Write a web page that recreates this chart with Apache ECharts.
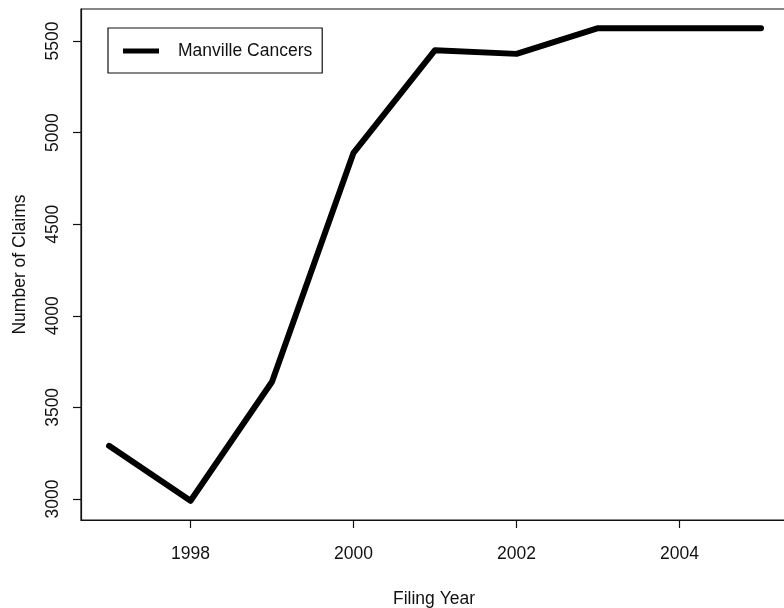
<!DOCTYPE html>
<html>
<head>
<meta charset="utf-8">
<script src="https://cdn.jsdelivr.net/npm/echarts@6/dist/echarts.min.js"></script>
<style>html,body{margin:0;padding:0;background:#fff}#c{width:784px;height:608px}</style>
</head>
<body>
<div id="c"></div>
<script>
var years = [1997, 1998, 1999, 2000, 2001, 2002, 2003, 2004, 2005];
var claims = [3290, 2990, 3640, 4890, 5450, 5430, 5570, 5570, 5570];
var xTicks = [1998, 2000, 2002, 2004];
var yTicks = [3000, 3500, 4000, 4500, 5000, 5500];
var seriesName = 'Manville Cancers';

var FONT = '"Liberation Sans", Arial, Helvetica, sans-serif';
var FS = 17.5;
var chart = echarts.init(document.getElementById('c'), null, {renderer: 'canvas'});
chart.setOption({
  animation: false,
  backgroundColor: '#fff',
  textStyle: {fontFamily: FONT},
  grid: {left: 81, right: -3, top: 9, bottom: 88, show: true, borderColor: '#111', borderWidth: 1.2, containLabel: false, outerBoundsMode: 'none'},
  legend: {
    left: 108, top: 28,
    padding: [14, 10, 13, 15],
    borderColor: '#111', borderWidth: 1.2,
    itemWidth: 36, itemHeight: 5, icon: 'rect',
    textStyle: {fontFamily: FONT, fontSize: FS, color: '#111', padding: [0, 0, 0, 14]},
    data: [{name: seriesName, itemStyle: {color: '#000'}}]
  },
  xAxis: {
    type: 'value', min: 1996.656, max: 2005.319,
    name: 'Filing Year', nameLocation: 'middle', nameGap: 70,
    nameTextStyle: {fontFamily: FONT, fontSize: FS, color: '#111'},
    axisLine: {show: true, lineStyle: {color: '#111', width: 1.2}},
    axisTick: {show: true, length: 8, customValues: xTicks, lineStyle: {color: '#111', width: 1.2}},
    axisLabel: {customValues: xTicks, margin: 25, fontSize: FS, color: '#111', fontFamily: FONT, formatter: function(v){return String(v);}},
    splitLine: {show: false}
  },
  yAxis: {
    type: 'value', min: 2885, max: 5675,
    name: 'Number of Claims', nameLocation: 'middle', nameGap: 52,
    nameTextStyle: {fontFamily: FONT, fontSize: FS, color: '#111'},
    axisLine: {show: true, lineStyle: {color: '#111', width: 1.2}},
    axisTick: {show: true, length: 8, customValues: yTicks, lineStyle: {color: '#111', width: 1.2}},
    axisLabel: {customValues: yTicks, rotate: 90, margin: 19, fontSize: FS, color: '#111', fontFamily: FONT, formatter: function(v){return String(v);}},
    splitLine: {show: false}
  },
  series: [{
    name: seriesName,
    type: 'line',
    data: years.map(function(y, i){ return [y, claims[i]]; }),
    showSymbol: false,
    lineStyle: {color: '#000', width: 6, cap: 'round', join: 'round'},
    itemStyle: {color: '#000'}
  }]
});
</script>
</body>
</html>
